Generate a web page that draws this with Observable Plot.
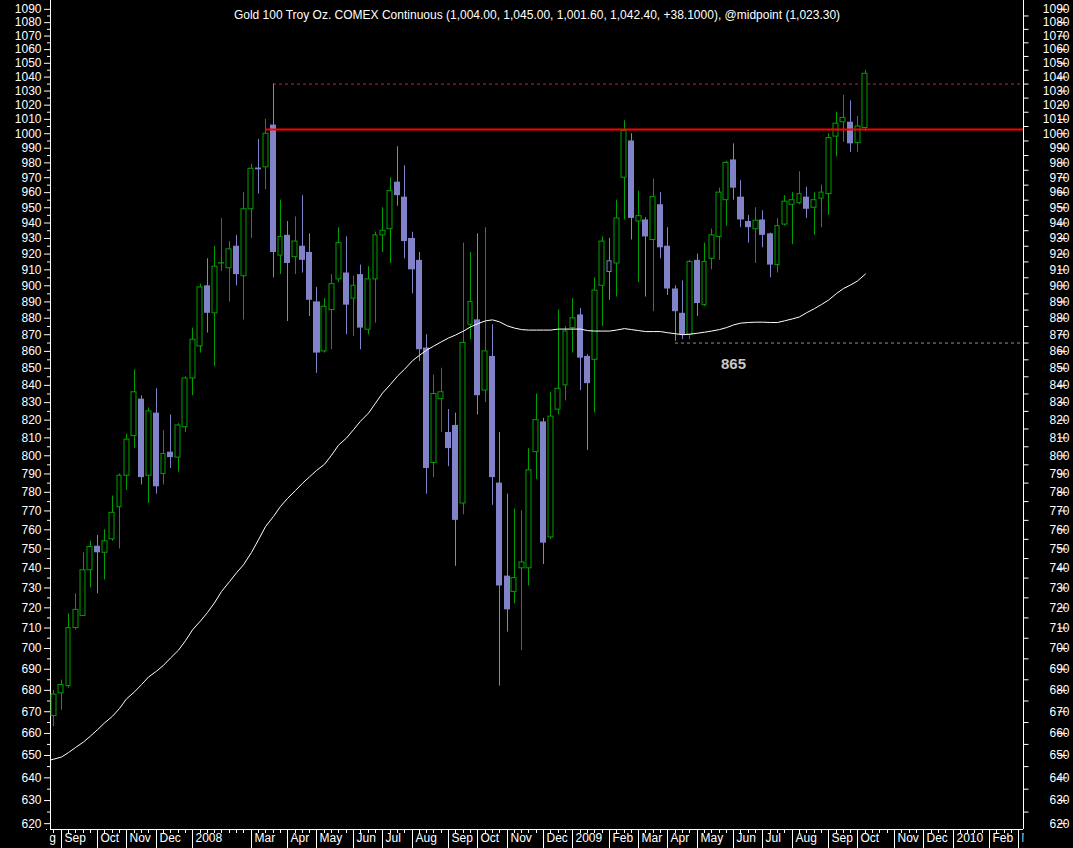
<!DOCTYPE html>
<html><head><meta charset="utf-8">
<script src="https://cdn.jsdelivr.net/npm/d3@7"></script>
<script src="https://cdn.jsdelivr.net/npm/@observablehq/plot@0.6"></script>
<style>
html,body{margin:0;padding:0;background:#000;}
#chart svg{display:block;}
</style></head><body><div id="chart"></div>
<script>
const title = "Gold 100 Troy Oz. COMEX Continuous (1,004.00, 1,045.00, 1,001.60, 1,042.40, +38.1000), @midpoint (1,023.30)";
const firstWeek = "2007-08-20";
const lastWeek = "2009-10-05";
const open = [668,678.6,682,710,716,739,751.4,748,755,772,789,811,832,789,824,790,802,799,816,844,863,900,883,914.5,911,925,906,949,976.5,977,1006,919,932,918,925,921,890,860,885,904,908,892,907,873,904,932,936,967,957,930,916,862,796,832,813,817,774,876,879,837,857,785,736,728,740,740,802,819,756,826,840,874,882,857,855,900,908.6,914,970,995,941,942,929,952,925,898,883,870,916,888,917,931,955,982,957,941,936,942,933,913,939,952,953,957,950,956,959,998,1008,1008,993.5,1004];
const high = [680,684.8,717,727,748,754,757,760,778,790,812,849,834,827,838,814,823,818,845,874,901,917,925,943,928,932,960,979,996,1010,1035,955,941,944,958,933,899,892,907,937,931,906,913,912,934,950,970,991,978,934,921,870,846,850,826,824,927,921,933,937,876,813,779,771,770,804,835,821,836,885,875,892,886,858,905,931,930,955,1009,1000,961,943.5,969,960,937,900,903,916,920,927,936,963,981,993,968,945,950,948,933.5,943,958,960,974,963.5,960,965,1000,1015,1027,1023,1012,1045];
const low = [663,670.7,681,709,716,730,727,734,754,750,781,804,784,774,779,784,793,791,813,834,859,871,851,909,890,900,879,930,959,962,905,907,878,907,908,881,847,859,861,902,870,869,861,870,877,921,914,951,917,895,854,779,788,813,794,741,768,867,823,830,773,682,708,722,699,731,787,742,755,823,831,859,837,803,824,875,891,893,942,929,902,893,884,917,894,866,867,867,881,887,910,916,938,955,937,927,914,924,905,908,938,926,952,943,932,937,945,984,994,987,987,1001.6];
const close = [678,682.5,710,719,739,751,748,754,769,789,809,836,788,825,783,801,799,817,844,867,899,883,912,913.7,923,907,949,976,975.3,1000,921,931,914,928,916,891,859,887,901,927,888,900,874,904,932,935,961,958,928,910,861,793,835,836,804,765,865,890,834,860,788,731,719,735,743,792,820,753,822,838,872,880,856,841,897,928,915.4,943,1002,943,944.5,931,957,924,898,884,870,915,889,915,932,960,980,963,942,937,941.5,932,913,938,954,955,959,949,955,960,997,1007,1011,993,1005,1042.4];
// moving average, one value per week starting one week before the first candle
const maFirstWeek = "2007-08-13";
const maValues = [647.5,648.3,649.3,651.3,653.6,656.1,658.8,661.7,664.8,667.9,671.5,676.0,679.3,682.7,686.3,689.1,691.9,695.4,699.2,703.8,709.1,713.5,717.7,722.5,728.2,733.2,737.7,741.8,748.2,754.8,761.7,767.1,772.4,776.7,781.0,784.9,788.4,791.9,795.3,800.3,805.9,809.9,814.6,819.4,824.0,829.7,835.5,840.6,845.4,849.4,854.5,857.7,860.7,863.1,865.8,868.0,869.8,872.2,874.7,876.6,878.4,879.0,877.8,875.3,874.0,873.1,872.8,872.8,872.8,872.8,873.4,873.4,873.4,873.4,872.5,872.2,872.2,872.2,872.8,873.7,873.1,872.5,871.9,871.9,871.9,871.2,870.6,870.0,870.3,870.9,871.5,872.2,873.1,874.3,875.9,877.0,877.4,877.6,877.6,877.4,877.4,878.4,879.6,880.8,883.3,885.9,888.4,891.1,895.2,898.3,900.5,903.0,907.4];
const resistance = 1003, resistanceFrom = "2008-03-10";
const marchHigh = 1035, marchHighFrom = "2008-03-17";
const supportLow = 865, supportFrom = "2009-04-06", supportLabel = "865", supportLabelAt = "2009-06-01";
const monthTickDates = ["2007-07-30","2007-08-27","2007-10-01","2007-10-29","2007-11-26","2007-12-31","2008-02-25","2008-03-31","2008-04-28","2008-06-02","2008-06-30","2008-07-28","2008-09-01","2008-09-29","2008-10-27","2008-12-01","2008-12-29","2009-02-02","2009-03-02","2009-03-30","2009-04-27","2009-06-01","2009-06-29","2009-07-27","2009-08-31","2009-09-28","2009-11-02","2009-11-30","2009-12-28","2010-02-01","2010-03-01"];
const monthLabels = ["Aug","Sep","Oct","Nov","Dec","2008","Mar","Apr","May","Jun","Jul","Aug","Sep","Oct","Nov","Dec","2009","Feb","Mar","Apr","May","Jun","Jul","Aug","Sep","Oct","Nov","Dec","2010","Feb","Mar"];
const yMajor = d3.range(620, 1091, 10);
const yMinor = d3.range(625, 1091, 10);

const DAY = 864e5;
const d0 = new Date(firstWeek);
const dates = open.map((_, i) => new Date(+d0 + 7 * i * DAY));
const rows = dates.map((date, i) => ({
  date, open: open[i], high: high[i], low: low[i], close: close[i],
  up: i === 0 ? true : close[i] >= close[i - 1],
  filled: close[i] < open[i]
}));
const maRows = maValues.map((v, i) => ({date: new Date(+new Date(maFirstWeek) + 7 * i * DAY), value: v}));
const GREEN = "#00a000", LAV = "#8282c8";
const col = d => d.up ? GREEN : LAV;

const xStart = new Date(+d0 - 3.16 * DAY);
const xEnd = new Date(+new Date(lastWeek) + 151.5 * DAY);
const yDom = [617.5, 1096.7];
const weekTicks = d3.utcMonday.range(new Date(+d0 - 7 * DAY), xEnd);
const monthRows = monthTickDates.map((d, i) => ({date: new Date(d), label: monthLabels[i]}));

const hollow = rows.filter(d => !d.filled), solid = rows.filter(d => d.filled);

const chart = Plot.plot({
  width: 1073, height: 848,
  marginLeft: 50, marginRight: 50, marginTop: 0, marginBottom: 19,
  style: {background: "#000", color: "#fff", fontFamily: "'Liberation Sans', Arial, sans-serif", fontSize: "12px"},
  x: {type: "utc", domain: [xStart, xEnd], round: true},
  y: {type: "log", domain: yDom},
  marks: [
    Plot.axisY({anchor: "left", ticks: yMajor, tickSize: 6, tickPadding: 3, tickFormat: d => String(d), fontSize: 12, stroke: "#fff", fill: "#fff"}),
    Plot.axisY({anchor: "left", ticks: yMinor, tickSize: 3, tickFormat: () => "", stroke: "#fff"}),
    Plot.axisY({anchor: "right", ticks: yMajor, tickSize: 9, tickPadding: 3, textAnchor: "end", dx: 34, tickFormat: d => String(d), fontSize: 12, stroke: "#fff", fill: "#fff"}),
    Plot.axisY({anchor: "right", ticks: yMinor, tickSize: 4.5, tickFormat: () => "", stroke: "#fff"}),
    Plot.axisX({ticks: weekTicks, tickSize: 4, tickFormat: () => "", stroke: "#fff"}),
    Plot.axisX({ticks: monthRows.map(d => d.date), tickSize: 19, tickFormat: () => "", stroke: "#fff"}),
    Plot.text(monthRows, {x: "date", text: "label", frameAnchor: "bottom", dy: 12, dx: 3, textAnchor: "start", fill: "#fff", fontSize: 12}),
    Plot.ruleX([xStart, xEnd], {stroke: "#fff"}),
    Plot.ruleY([yDom[0]], {stroke: "#fff"}),
    Plot.ruleY([marchHigh], {x1: new Date(marchHighFrom), x2: xEnd, stroke: "#b03030", strokeDasharray: "3,3"}),
    Plot.ruleY([supportLow], {x1: new Date(supportFrom), x2: xEnd, stroke: "#909090", strokeDasharray: "3,3"}),
    Plot.ruleX(rows, {x: "date", y1: "low", y2: "high", stroke: col}),
    Plot.rect(solid, {x1: d => new Date(+d.date - 2.9 * DAY), x2: d => new Date(+d.date + 2.9 * DAY), y1: "open", y2: "close", fill: col}),
    Plot.rect(hollow, {x1: d => new Date(+d.date - 2.3 * DAY), x2: d => new Date(+d.date + 2.3 * DAY), y1: "open", y2: "close", fill: "#000", stroke: col}),
    Plot.ruleY([resistance], {x1: new Date(resistanceFrom), x2: xEnd, stroke: "#ff0000", strokeWidth: 2}),
    Plot.line(maRows, {x: "date", y: "value", stroke: "#fff", strokeWidth: 1, clip: true}),
    Plot.text([supportLow], {x: () => new Date(supportLabelAt), y: d => d, text: () => supportLabel, dy: 21, fill: "#c8c8c8", fontSize: 15, fontWeight: "bold"}),
    Plot.text([title], {frameAnchor: "top", dy: 10, fill: "#fff", fontSize: 12})
  ]
});
const svg = d3.select(chart);
svg.append("rect").attr("x", 0).attr("y", 830).attr("width", 49.5).attr("height", 18).attr("fill", "#000");
svg.append("rect").attr("x", 1023.5).attr("y", 830).attr("width", 50).attr("height", 18).attr("fill", "#000");
document.getElementById("chart").appendChild(chart);
</script></body></html>
